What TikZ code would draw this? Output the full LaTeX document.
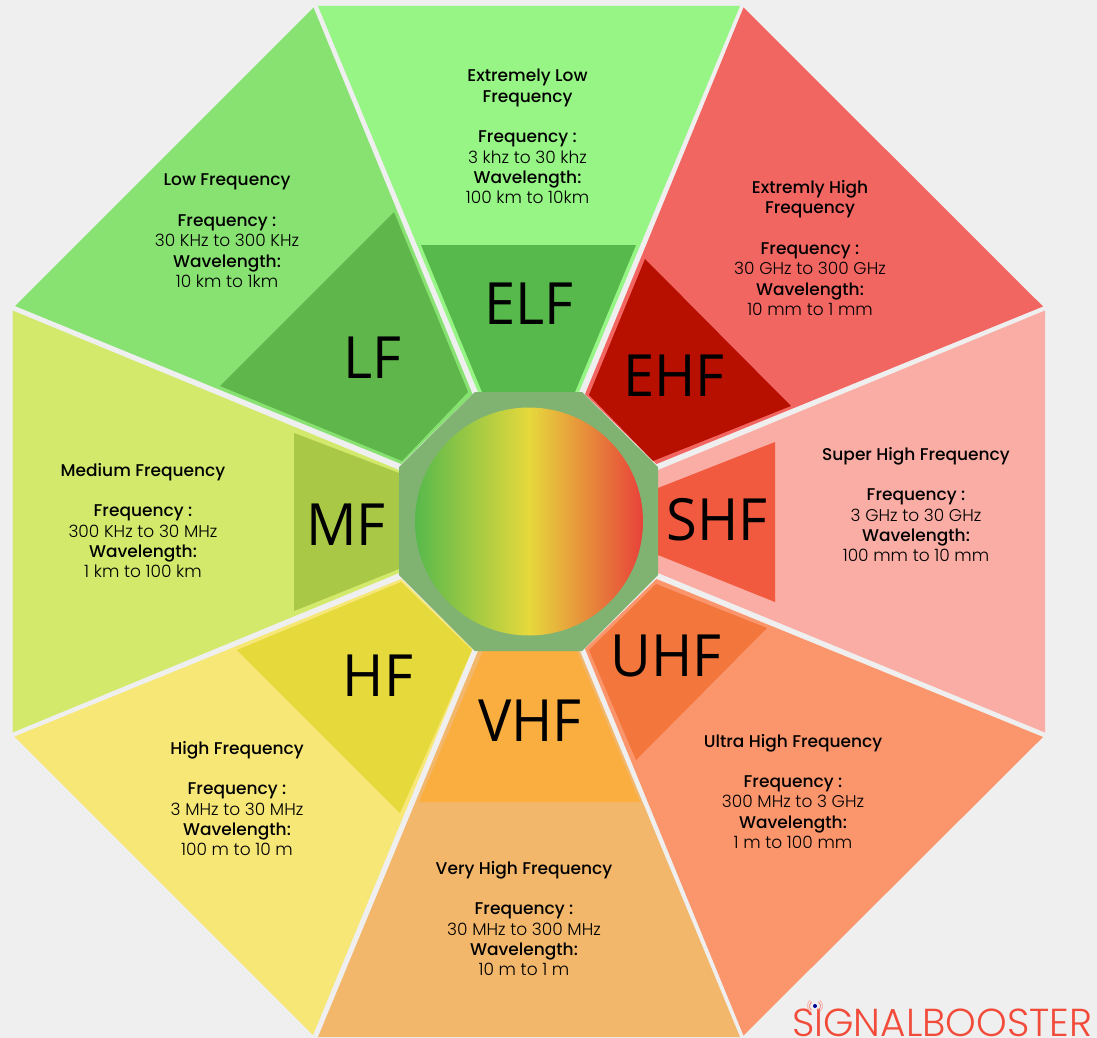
\documentclass[tikz,border=0pt]{standalone}
\usepackage{fontspec}
\setmainfont{Poppins}
\newfontfamily\popmedium{Poppins Medium}
\newfontfamily\poplight{Poppins Light}
\newfontfamily\bandfont{Open Sans}
\definecolor{pagebg}{HTML}{EFEFEF}
\definecolor{elfout}{HTML}{96F584}
\definecolor{elfin}{HTML}{57B94B}
\definecolor{lfout}{HTML}{87E271}
\definecolor{lfin}{HTML}{5FB74B}
\definecolor{mfout}{HTML}{D3E96C}
\definecolor{mfin}{HTML}{A9C946}
\definecolor{hfout}{HTML}{F6E777}
\definecolor{hfin}{HTML}{E6D93C}
\definecolor{vhfout}{HTML}{F2B76A}
\definecolor{vhfin}{HTML}{FAAE40}
\definecolor{uhfout}{HTML}{FB956C}
\definecolor{uhfin}{HTML}{F3763C}
\definecolor{shfout}{HTML}{FAADA4}
\definecolor{shfin}{HTML}{F15A3E}
\definecolor{ehfout}{HTML}{F26662}
\definecolor{ehfin}{HTML}{B81000}
\definecolor{hubgreen}{HTML}{80B272}
\definecolor{hubred}{HTML}{E8413A}
\definecolor{logored}{HTML}{F24B3A}
\newcommand{\head}[1]{{\popmedium #1}}
\tikzset{
	infotext/.style={align=center,inner sep=0pt,text=black,font=\poplight\fontsize{17}{20.3}\selectfont},
	bandtext/.style={inner sep=0pt,yscale=1.04,transform shape,font=\bandfont\fontsize{56}{60}\selectfont}
}
\begin{document}
\begin{tikzpicture}[x=1pt,y=-1pt]
	\fill[pagebg] (0,0) rectangle (1097,1038);
	\useasboundingbox (0,0) rectangle (1097,1038);

	% outer wedges
	\fill[elfout] (318,6) -- (740,6) -- (579,392) -- (478,392) -- cycle;
	\fill[lfout] (313.5,7.5) -- (15,306) -- (401.2,464) -- (472.6,394.2) -- cycle;
	\fill[mfout] (12.5,310.5) -- (399,470) -- (399,573) -- (12.5,732.5) -- cycle;
	\fill[hfout] (14.5,736.5) -- (401.2,579) -- (472.6,648.8) -- (313,1035) -- cycle;
	\fill[vhfout] (318,1037) -- (478,651) -- (580,651) -- (740,1037) -- cycle;
	\fill[uhfout] (656.5,579) -- (1043,737) -- (743.5,1035.5) -- (585,648.8) -- cycle;
	\fill[shfout] (1045,310.5) -- (1045,732.5) -- (658,573) -- (658,470) -- cycle;
	\fill[ehfout] (743.5,7.5) -- (1043,306.5) -- (656.5,464) -- (585,394.2) -- cycle;

	% inner wedges
	\fill[elfin] (421,245) -- (636,245) -- (575,392) -- (482,392) -- cycle;
	\fill[lfin] (394,212) -- (220,386) -- (402,461) -- (468,392) -- cycle;
	\fill[mfin] (294,433) -- (399,473) -- (399,569) -- (294,611) -- cycle;
	\fill[hfin] (237,650) -- (401,582) -- (472,650) -- (400,813) -- cycle;
	\fill[vhfin] (483,651) -- (577,651) -- (640,802) -- (419,802) -- cycle;
	\fill[uhfin] (656,584) -- (767,628) -- (636,760) -- (589,650) -- cycle;
	\fill[shfin] (775,442) -- (775,602) -- (658,555) -- (658,488) -- cycle;
	\fill[ehfin] (645,259) -- (791,406) -- (653,461) -- (589,395) -- cycle;

	% hub
	\fill[hubgreen] (475,392) -- (582,392) -- (658,467) -- (658,575) -- (582,651) -- (475,651) -- (399,575) -- (399,467) -- cycle;
	\shade[left color=elfin,right color=hubred,middle color=hfin] (529,521.5) circle (114);

	\begin{scope}[every node/.style={bandtext}]
	\node (elf) at (529,304) {ELF};
	\node (lf) at (372,358) {LF};
	\node (mf) at (346,525) {MF};
	\node (hf) at (378,676) {HF};
	\node (vhf) at (530,721) {VHF};
	\node (uhf) at (666,656) {UHF};
	\node (shf) at (717,520) {SHF};
	\node (ehf) at (674,376) {EHF};
	\end{scope}

	\begin{scope}[every node/.style={infotext}]
	\node (elf-info) at (527.5,136.5) {\head{Extremely Low}\\\head{Frequency}\\[20.3pt]\head{Frequency :}\\3 khz to 30 khz\\\head{Wavelength:}\\100 km to 10km};
	\node (lf-info) at (227,230.8) {\head{Low Frequency}\\[20.3pt]\head{Frequency :}\\30 KHz to 300 KHz\\\head{Wavelength:}\\10 km to 1km};
	\node (mf-info) at (143,520.5) {\head{Medium Frequency}\\[20.3pt]\head{Frequency :}\\300 KHz to 30 MHz\\\head{Wavelength:}\\1 km to 100 km};
	\node (hf-info) at (237,798.5) {\head{High Frequency}\\[20.3pt]\head{Frequency :}\\3 MHz to 30 MHz\\\head{Wavelength:}\\100 m to 10 m};
	\node (vhf-info) at (524,918.5) {\head{Very High Frequency}\\[20.3pt]\head{Frequency :}\\30 MHz to 300 MHz\\\head{Wavelength:}\\10 m to 1 m};
	\node (uhf-info) at (793,791.3) {\head{Ultra High Frequency}\\[20.3pt]\head{Frequency :}\\300 MHz to 3 GHz\\\head{Wavelength:}\\1 m to 100 mm};
	\node (shf-info) at (916,504.5) {\head{Super High Frequency}\\[20.3pt]\head{Frequency :}\\3 GHz to 30 GHz\\\head{Wavelength:}\\100 mm to 10 mm};
	\node (ehf-info) at (810,248) {\head{Extremly High}\\\head{Frequency}\\[20.3pt]\head{Frequency :}\\30 GHz to 300 GHz\\\head{Wavelength:}\\10 mm to 1 mm};
	\end{scope}

	% logo
	\node[anchor=base west,inner sep=0pt,text=logored,font=\poplight\fontsize{39}{42}\selectfont] (logo) at (792,1036.5) {SIGNALBOOSTER};
	\fill[blue!60!black] (815,1006) circle (2);
	\draw[logored!70,line width=.8pt] (811.5,1010.2) arc (130:230:5.5) (818.5,1010.2) arc (50:-50:5.5);
	\draw[logored!45,line width=.8pt] (810.2,1011.7) arc (130:230:7.5) (819.8,1011.7) arc (50:-50:7.5);
\end{tikzpicture}
\end{document}
